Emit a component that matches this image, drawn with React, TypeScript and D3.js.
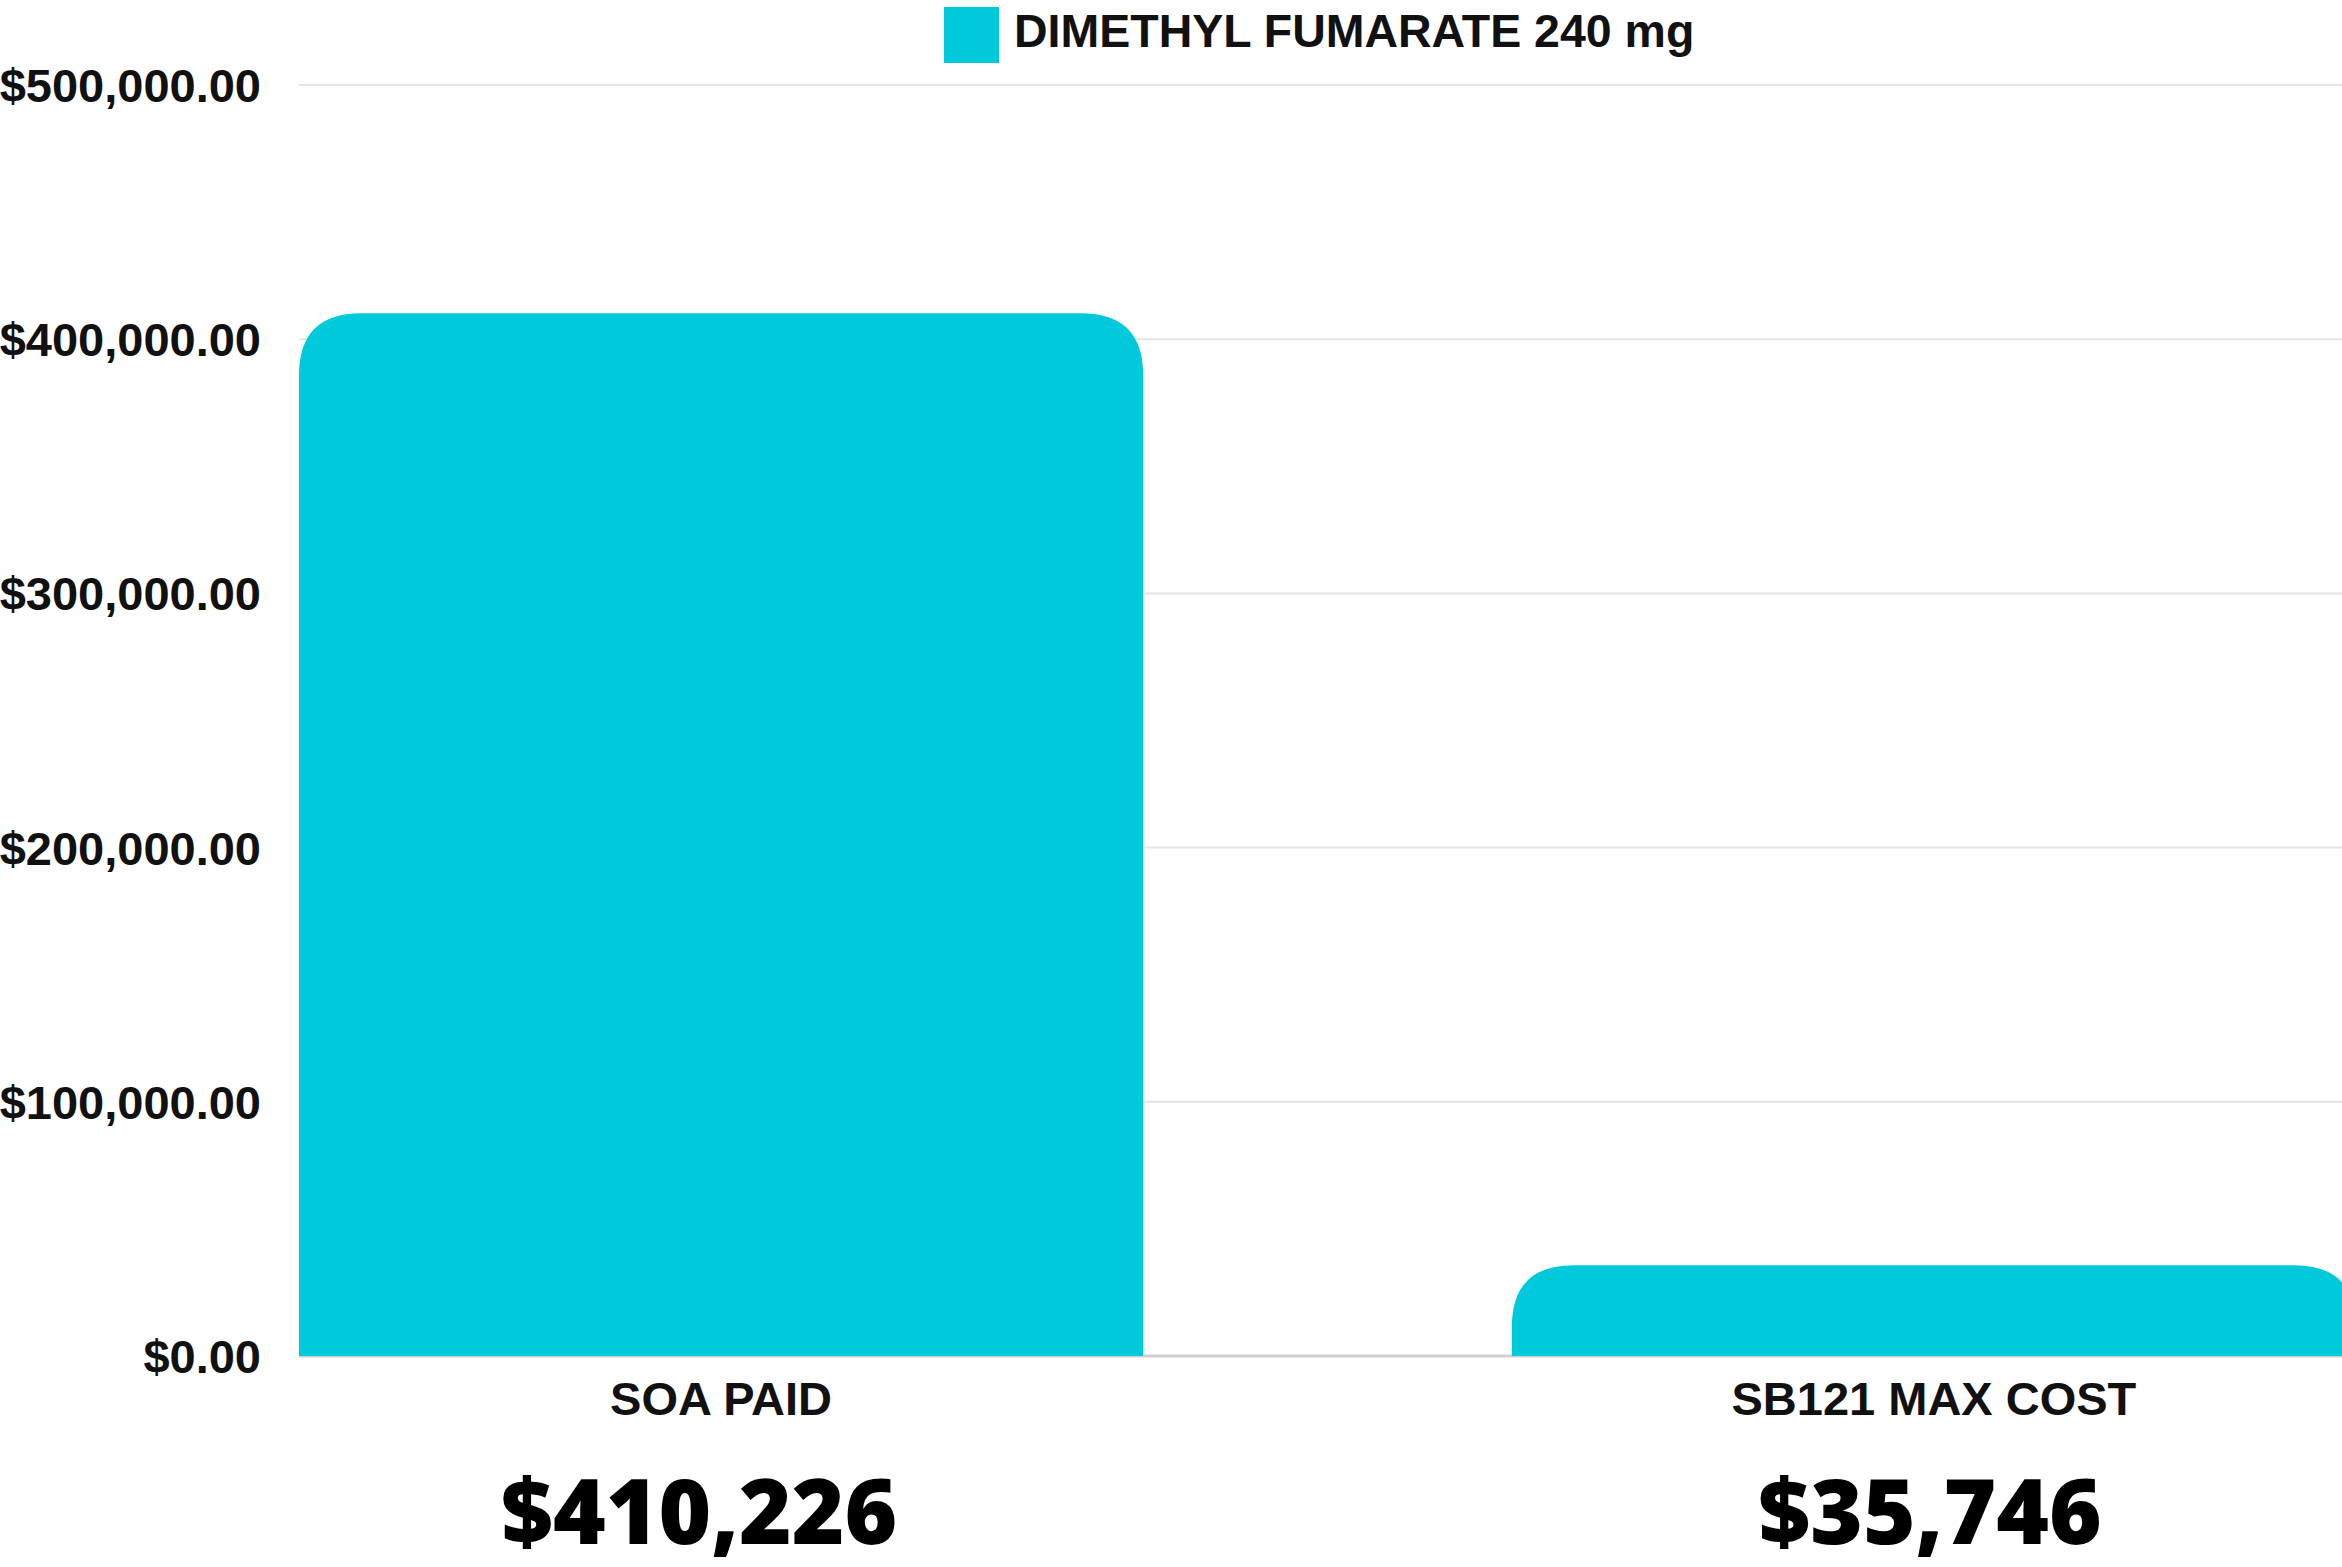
import React from "react";
import * as d3 from "d3";

// chart data
const categories = ["SOA PAID", "SB121 MAX COST"];
const values = [410226, 35746];
const valueLabels = ["$410,226", "$35,746"];
const seriesName = "DIMETHYL FUMARATE 240 mg";
const yTicks = [0, 100000, 200000, 300000, 400000, 500000];

const W = 2342;
const H = 1567;
const BAR = "#00c9db";

// rounded top corners only
function topRounded(x: number, y: number, w: number, h: number, r: number) {
  r = Math.min(r, w / 2, h);
  return `M${x},${y + h}V${y + r}Q${x},${y} ${x + r},${y}H${x + w - r}Q${x + w},${y} ${x + w},${y + r}V${y + h}Z`;
}

export default function App() {
  const margin = { top: 85, left: 299, bottom: 211 };
  const plotRight = 2356;

  const x = d3.scaleBand().domain(categories).range([margin.left, plotRight]).paddingInner(0.304).paddingOuter(0);
  const y = d3.scaleLinear().domain([0, 500000]).range([H - margin.bottom, margin.top]);
  const fmt = (v: number) => "$" + d3.format(",.2f")(v);

  return (
    <svg width={W} height={H} style={{ position: "absolute", left: 0, top: 0, background: "#fff" }}>
      {/* gridlines */}
      {yTicks.map((t) => (
        <line key={t} x1={margin.left} x2={W} y1={y(t)} y2={y(t)} stroke={t === 0 ? "#d0d0d0" : "#e4e4e4"} strokeWidth={t === 0 ? 3 : 2} />
      ))}
      {/* y tick labels */}
      {yTicks.map((t) => (
        <text key={"l" + t} x={261} y={y(t)} dy="0.36em" textAnchor="end" fontFamily="Liberation Sans, Arial" fontWeight="bold" fontSize={47} fill="#111">
          {fmt(t)}
        </text>
      ))}
      {/* bars */}
      {categories.map((c, i) => (
        <path key={c} d={topRounded(x(c)!, y(values[i]), x.bandwidth(), y(0) - y(values[i]), 62)} fill={BAR} />
      ))}
      {/* category labels */}
      {categories.map((c) => (
        <text key={"c" + c} x={x(c)! + x.bandwidth() / 2} y={1415} textAnchor="middle" fontFamily="Liberation Sans, Arial" fontWeight="bold" fontSize={47} fill="#111">
          {c}
        </text>
      ))}
      {/* big value annotations */}
      {categories.map((c, i) => (
        <text key={"v" + c} x={x(c)! + x.bandwidth() / 2} dx={i === 0 ? -22 : -4} y={1544} textAnchor="middle" fontFamily="Open Sans" fontWeight={800} fontSize={90} fill="#000">
          {valueLabels[i]}
        </text>
      ))}
      {/* legend */}
      <rect x={944} y={7} width={55} height={56} fill={BAR} />
      <text x={1014} y={47} fontFamily="Liberation Sans, Arial" fontWeight="bold" fontSize={46.5} fill="#111">
        {seriesName}
      </text>
    </svg>
  );
}
